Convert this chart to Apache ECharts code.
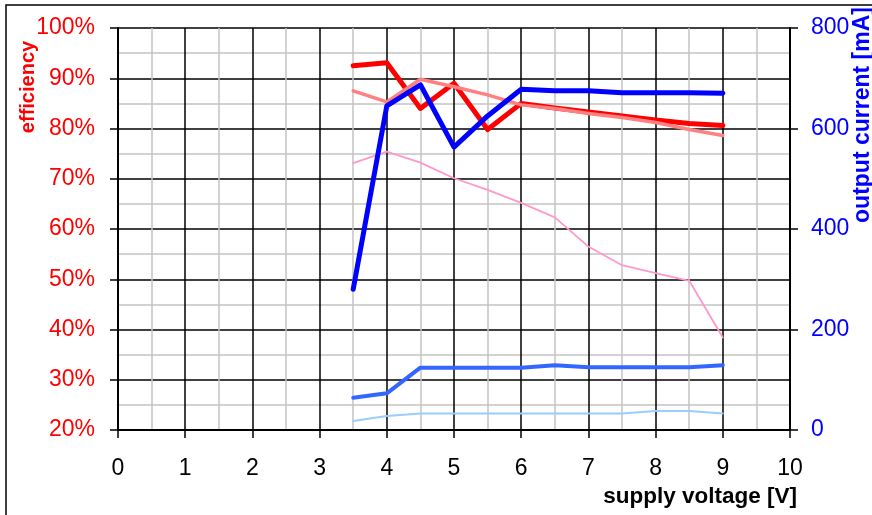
<!DOCTYPE html>
<html>
<head>
<meta charset="utf-8">
<script src="https://cdn.jsdelivr.net/npm/echarts@6/dist/echarts.min.js"></script>
<style>
html,body{margin:0;padding:0;background:#fff;}
#main{width:872px;height:515px;}
</style>
</head>
<body>
<div id="main"></div>
<script>
var voltage = [3.5, 4, 4.5, 5, 5.5, 6, 6.5, 7, 7.5, 8, 8.5, 9];
var effHigh = [92.5, 93.1, 84, 89, 79.8, 85, 84.1, 83.3, 82.5, 81.7, 81, 80.6];
var effMid  = [87.5, 85.3, 89.8, 88.3, 86.7, 84.7, 84, 83, 82.2, 81.2, 79.8, 78.6];
var effLow  = [73.1, 75.4, 73.2, 70.1, 67.8, 65.2, 62.3, 56.5, 52.8, 51.2, 49.7, 38.4];
var curHigh = [280, 645, 687, 563, 625, 678, 675, 675, 671, 671, 671, 670];
var curMid  = [64, 73, 124, 124, 124, 124, 129, 125, 125, 125, 125, 129];
var curLow  = [18, 28, 33, 33, 33, 33, 33, 33, 33, 38, 38, 33];

var xTicks = [0, 10, 1];
var effTicks = [20, 100, 10];
var curTicks = [0, 800, 200];

function pairs(xs, ys){ return xs.map(function(x,i){ return [x, ys[i]]; }); }

var tickFont = "'Liberation Sans', Arial, sans-serif";
var chart = echarts.init(document.getElementById('main'), null, {renderer:'canvas'});

function line(name, data, color, width, yIdx){
  return {
    name:name, type:'line', data:data, yAxisIndex:yIdx, symbol:'none',
    lineStyle:{color:color, width:width, cap:'round', join:'round'},
    animation:false, z:3
  };
}

chart.setOption({
  animation:false,
  backgroundColor:'#fff',
  grid:{left:118, right:82, top:28, bottom:85, containLabel:false},
  xAxis:{
    type:'value', min:xTicks[0], max:xTicks[1], interval:xTicks[2],
    axisLine:{show:true, onZero:false, lineStyle:{color:'#000', width:2}},
    axisTick:{show:true, inside:false, length:8, lineStyle:{color:'#000', width:1.5}},
    axisLabel:{color:'#000', fontSize:23, fontFamily:tickFont, margin:27},
    splitLine:{show:true, lineStyle:{color:'#000', width:1.5}},
    minorTick:{show:false, splitNumber:2},
    minorSplitLine:{show:true, lineStyle:{color:'#c4c4c4', width:1.5}}
  },
  yAxis:[{
    type:'value', min:effTicks[0], max:effTicks[1], interval:effTicks[2], position:'left',
    axisLine:{show:true, lineStyle:{color:'#000', width:2}},
    axisTick:{show:true, inside:false, length:8, lineStyle:{color:'#000', width:1.5}},
    axisLabel:{color:'#ff0000', fontSize:23, fontFamily:tickFont, margin:23, formatter:'{value}%'},
    splitLine:{show:true, lineStyle:{color:'#000', width:1.5}},
    minorTick:{show:false, splitNumber:2},
    minorSplitLine:{show:true, lineStyle:{color:'#c4c4c4', width:1.5}}
  },{
    type:'value', min:curTicks[0], max:curTicks[1], interval:curTicks[2], position:'right',
    axisLine:{show:true, lineStyle:{color:'#000', width:2}},
    axisTick:{show:true, inside:false, length:8, lineStyle:{color:'#000', width:1.5}},
    axisLabel:{color:'#0000ff', fontSize:23, fontFamily:tickFont, margin:21},
    splitLine:{show:false}
  }],
  series:[
    line('effHigh', pairs(voltage, effHigh), '#ff0000', 5, 0),
    line('effMid', pairs(voltage, effMid), '#ff8080', 3.5, 0),
    line('effLow', pairs(voltage, effLow), '#ff99cc', 1.8, 0),
    line('curLow', pairs(voltage, curLow), '#99ccff', 2, 1),
    line('curMid', pairs(voltage, curMid), '#3366ff', 4, 1),
    line('curHigh', pairs(voltage, curHigh), '#0000ff', 5, 1)
  ],
  graphic:[
    {type:'rect', shape:{x:6, y:5, width:900, height:600}, style:{fill:null, stroke:'#000', lineWidth:1.5}, z:-1, silent:true},
    {type:'text', x:28, y:87, rotation:Math.PI/2,
     style:{text:'efficiency', fill:'#ff0000', font:"bold 20px 'Liberation Sans', Arial, sans-serif", textAlign:'center', textVerticalAlign:'middle'}},
    {type:'text', x:863, y:115, rotation:Math.PI/2,
     style:{text:'output current [mA]', fill:'#0000ff', font:"bold 23px 'Liberation Sans', Arial, sans-serif", textAlign:'center', textVerticalAlign:'middle'}},
    {type:'text', x:797, y:497,
     style:{text:'supply voltage [V]', fill:'#000', font:"bold 22.5px 'Liberation Sans', Arial, sans-serif", textAlign:'right', textVerticalAlign:'middle'}}
  ]
});
</script>
</body>
</html>
